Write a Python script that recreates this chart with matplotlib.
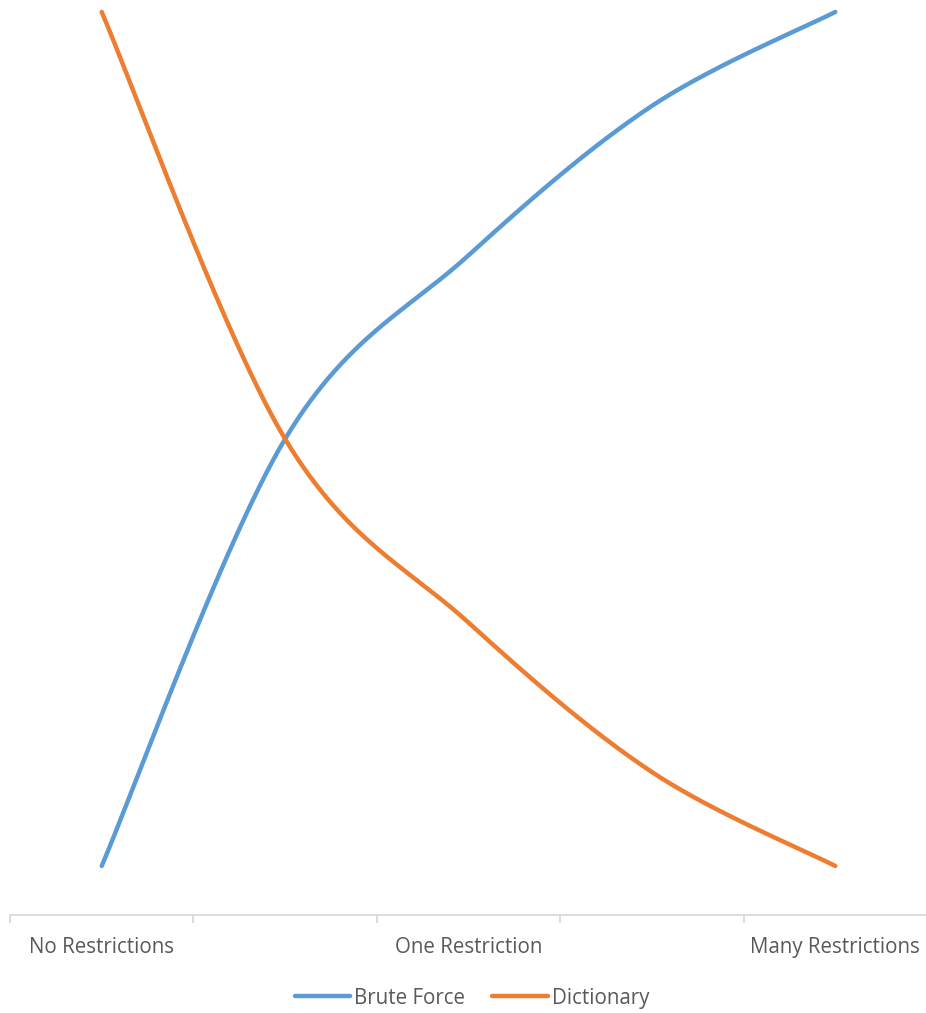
import numpy as np
import matplotlib
matplotlib.use("Agg")
import matplotlib.pyplot as plt
from matplotlib.lines import Line2D

categories = ["No Restrictions", "", "One Restriction", "", "Many Restrictions"]
brute_force = [0, 50, 71.5, 89, 100]
dictionary = [100, 50, 28.5, 11, 0]

BLUE = "#5B9BD5"
ORANGE = "#ED7D31"
TEXT = "#595959"
AXIS = "#D9D9D9"
FONT = ["Open Sans", "DejaVu Sans"]


def smooth(xs, ys, steps=60):
    """Cubic Bezier smoothing through every point (1/6 tangent rule)."""
    p = np.column_stack([xs, ys]).astype(float)
    n = len(p)
    out = [p[0]]
    t = np.linspace(0, 1, steps)[1:, None]
    for i in range(n - 1):
        prev = p[max(i - 1, 0)]
        nxt = p[min(i + 2, n - 1)]
        c1 = p[i] + (p[i + 1] - prev) / 6
        c2 = p[i + 1] - (nxt - p[i]) / 6
        seg = ((1 - t) ** 3) * p[i] + 3 * ((1 - t) ** 2) * t * c1 \
            + 3 * (1 - t) * t ** 2 * c2 + t ** 3 * p[i + 1]
        out.extend(seg)
    out = np.array(out)
    return out[:, 0], out[:, 1]


W, H = 926, 1013
fig = plt.figure(figsize=(W / 100, H / 100), dpi=100)
ax = fig.add_axes([10 / W, (H - 915) / H, 917 / W, 915 / H])

x = np.arange(len(categories))
for ys, col in [(brute_force, BLUE), (dictionary, ORANGE)]:
    sx, sy = smooth(x, ys)
    ax.plot(sx, sy, color=col, lw=3.2, solid_capstyle="round", clip_on=False)

ax.set_xlim(-0.5, len(categories) - 0.5)
ax.set_ylim(-5.74, 101.4)

for s in ["left", "right", "top"]:
    ax.spines[s].set_visible(False)
ax.spines["bottom"].set_color(AXIS)
ax.spines["bottom"].set_linewidth(1.3)
ax.set_yticks([])

ax.set_xticks(np.arange(-0.5, len(categories), 1.0))
ax.set_xticklabels([])
ax.tick_params(axis="x", which="major", length=6, width=1.3, color=AXIS)
ax.set_xticks(x, minor=True)
ax.set_xticklabels(categories, minor=True, fontsize=14.8, color=TEXT,
                   family=FONT)
ax.tick_params(axis="x", which="minor", length=0, pad=16)

handles = [Line2D([], [], color=BLUE, lw=3.2, solid_capstyle="round"),
           Line2D([], [], color=ORANGE, lw=3.2, solid_capstyle="round")]
leg = fig.legend(handles, ["Brute Force", "Dictionary"], loc="center",
                 bbox_to_anchor=(472 / W, 1 - 998 / H), ncol=2, frameon=False,
                 handlelength=2.7, handletextpad=0.2, columnspacing=1.3,
                 prop={"family": FONT, "size": 14.8})
for t in leg.get_texts():
    t.set_color(TEXT)

fig.savefig("out.png", dpi=100, facecolor="white")
